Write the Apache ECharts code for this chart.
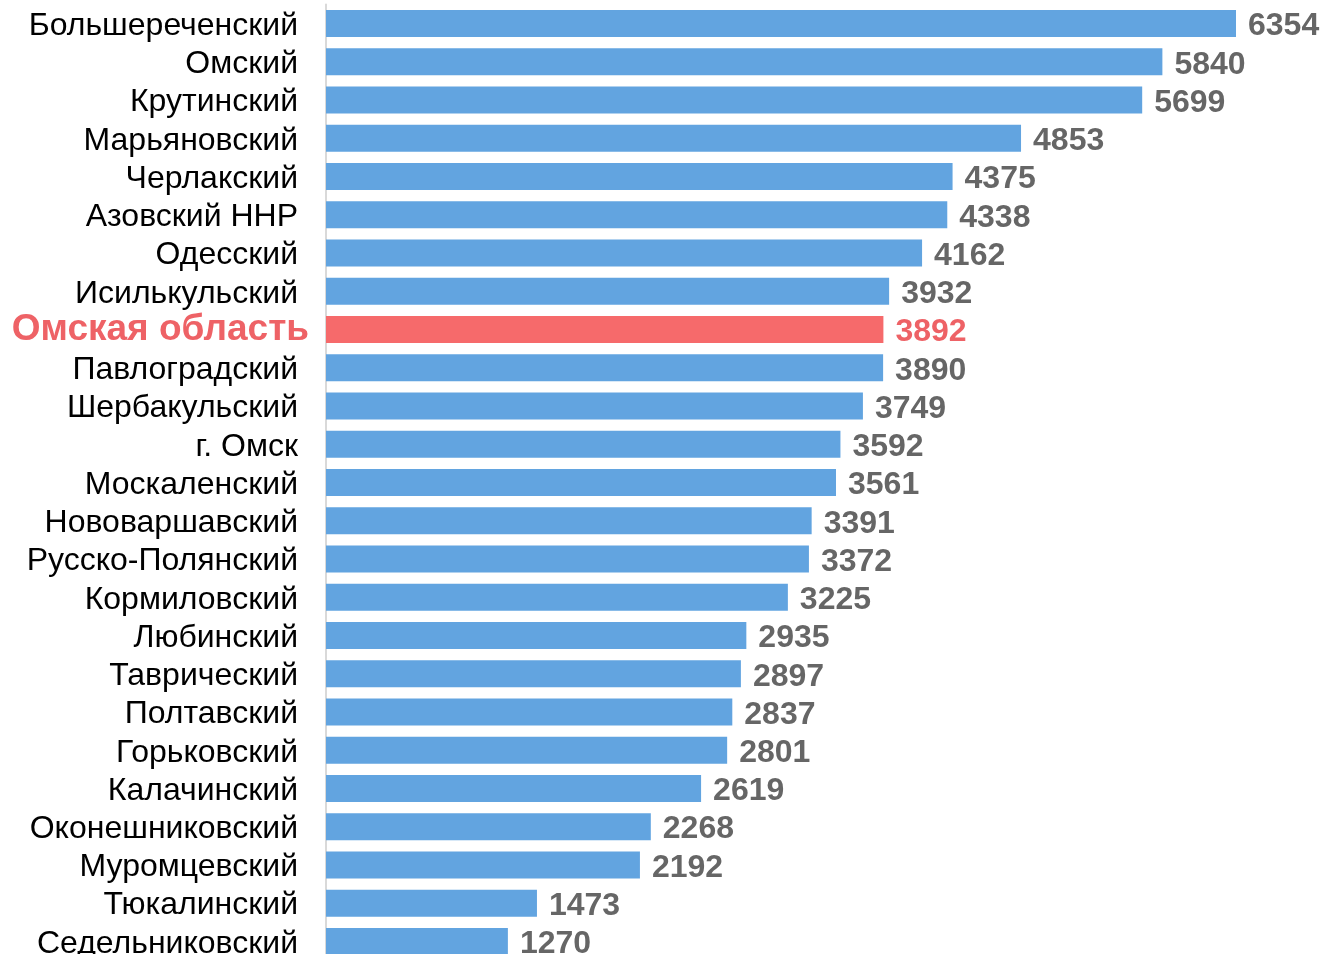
<!DOCTYPE html>
<html>
<head>
<meta charset="utf-8">
<script src="https://cdn.jsdelivr.net/npm/echarts@6/dist/echarts.min.js"></script>
<style>
  html, body { margin: 0; padding: 0; background: #fff; }
  #chart { width: 1322px; height: 954px; }
</style>
</head>
<body>
<div id="chart"></div>
<script>
// districts, top to bottom
const districts = [
  'Большереченский', 'Омский', 'Крутинский', 'Марьяновский', 'Черлакский',
  'Азовский ННР', 'Одесский', 'Исилькульский', 'Омская область', 'Павлоградский',
  'Шербакульский', 'г. Омск', 'Москаленский', 'Нововаршавский', 'Русско-Полянский',
  'Кормиловский', 'Любинский', 'Таврический', 'Полтавский', 'Горьковский',
  'Калачинский', 'Оконешниковский', 'Муромцевский', 'Тюкалинский', 'Седельниковский'
];
const values = [
  6354, 5840, 5699, 4853, 4375,
  4338, 4162, 3932, 3892, 3890,
  3749, 3592, 3561, 3391, 3372,
  3225, 2935, 2897, 2837, 2801,
  2619, 2268, 2192, 1473, 1270
];
const highlight = 'Омская область';

const blue = '#62a4e0';
const red = '#f66a6b';

const chart = echarts.init(document.getElementById('chart'));
chart.setOption({
  animation: false,
  grid: { left: 326, top: 4.5, width: 910, height: 956, outerBoundsMode: 'none', containLabel: false },
  xAxis: {
    type: 'value',
    min: 0,
    max: 6354,
    show: false
  },
  yAxis: {
    type: 'category',
    inverse: true,
    data: districts,
    axisLine: { show: true, lineStyle: { color: '#d9d9d9', width: 2 } },
    axisTick: { show: false },
    axisLabel: {
      margin: 17,
      fontFamily: 'Liberation Sans, Arial, sans-serif',
      formatter: v => v === highlight ? '{hl|' + v + '}' : '{n|' + v + '}',
      rich: {
        n: { fontSize: 32, color: '#000', padding: [5, 11, 0, 0] },
        hl: { fontSize: 37, fontWeight: 'bold', color: '#ee6266', padding: [0, 0, 0, 0] }
      }
    }
  },
  series: [{
    type: 'bar',
    barWidth: 27,
    data: values.map((v, i) => districts[i] === highlight
      ? { value: v, itemStyle: { color: red }, label: { color: '#ee6266' } }
      : v),
    itemStyle: { color: blue },
    label: {
      show: true,
      position: 'right',
      distance: 12,
      offset: [0, 3],
      fontFamily: 'Liberation Sans, Arial, sans-serif',
      fontSize: 32,
      fontWeight: 'bold',
      color: '#666666'
    }
  }]
});
</script>
</body>
</html>
